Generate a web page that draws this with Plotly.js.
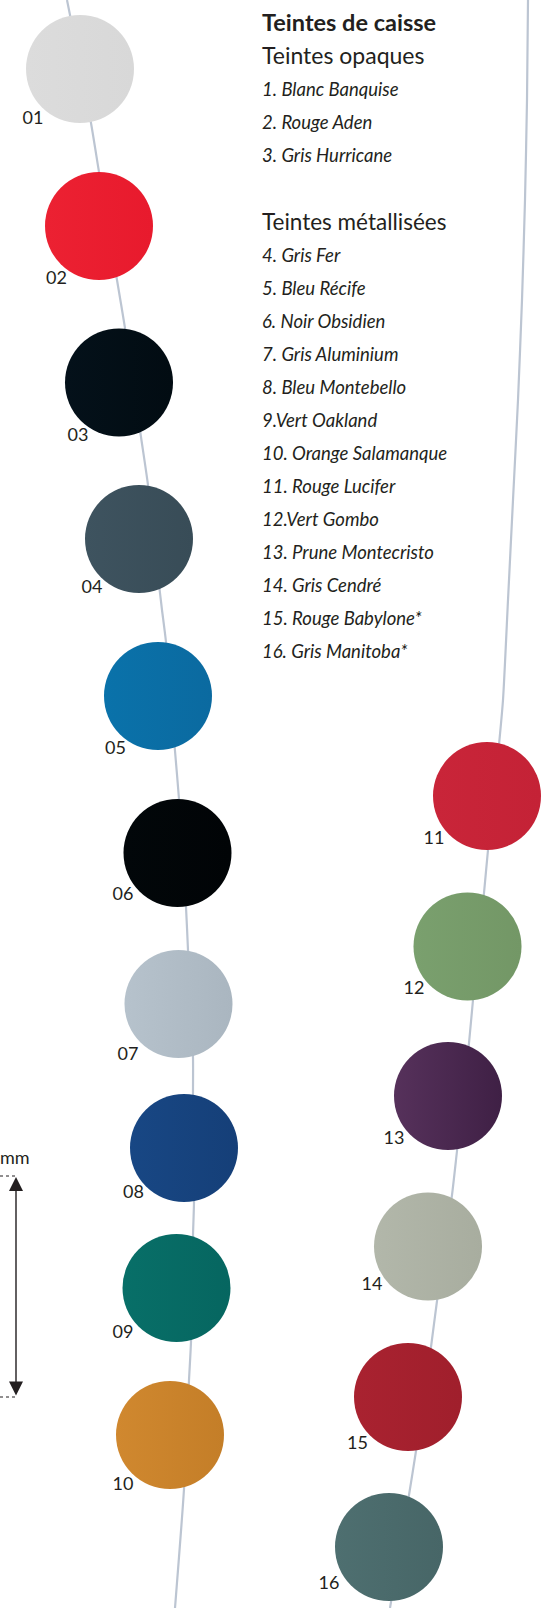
<!DOCTYPE html>
<html>
<head>
<meta charset="utf-8">
<script src="https://cdn.plot.ly/plotly-3.0.1.min.js"></script>
<style>
  html, body { margin: 0; padding: 0; background: #ffffff; }
  #chart { width: 556px; height: 1608px; }
</style>
</head>
<body>
<div id="chart"></div>
<script>
// ---- Data ----
const swatchIds = ['01','02','03','04','05','06','07','08','09','10','11','12','13','14','15','16'];
const swatchX = [80, 99, 119, 139, 158, 177.5, 178.5, 184, 176.5, 170, 487, 467.5, 448, 428, 408, 389];
const swatchY = [69, 226, 382.5, 539, 696, 853, 1004, 1148, 1288, 1435, 796, 946.5, 1096, 1246.5, 1397, 1547];
const swatchColor = ['#dcdcdc','#ec2132','#04111a','#3e535f','#0a72aa','#02070a','#b6c2cc','#184784',
                     '#086f68','#d0882f','#c92539','#7aa06e','#56315b','#b2b7aa','#a92230','#4e6f70'];
const swatchEdge  = ['#d8d8d8','#e81a2d','#020c12','#384c57','#0b6aa0','#010406','#aab6c0','#153f78',
                     '#066660','#c47e28','#c42236','#739766','#3f2045','#a8ad9f','#a01f2c','#476667'];
const labelX = [33, 56.5, 78, 92, 115.5, 123, 128, 133.5, 123, 123, 434, 414, 394, 372, 357.5, 329];
const labelY = [119.5, 279, 436, 588, 749, 895, 1055, 1193, 1333, 1485, 839, 989, 1139, 1285, 1444, 1584];

const leftThreadX = [67, 71, 91, 99, 117, 125, 141, 148, 160, 162, 166, 175, 179, 186, 188, 193, 193, 194, 193, 191, 189, 184, 175];
const leftThreadY = [0, 20, 123, 172, 280, 328, 437, 485, 593, 610, 642, 751, 799, 907, 950, 1058, 1094, 1202, 1235, 1342, 1380, 1489, 1608];
const rightThreadX = [528, 527, 525, 522, 518, 513, 508, 503, 498, 488, 484, 473, 469, 457, 452, 437, 431, 416, 409, 390];
const rightThreadY = [0, 100, 200, 300, 400, 500, 600, 700, 755, 850, 893, 1000, 1043, 1151, 1195, 1301, 1347, 1451, 1495, 1608];

const legendTitle = 'Teintes de caisse';
const groupOpaque = 'Teintes opaques';
const groupMetal = 'Teintes métallisées';
const opaqueNames = ['1. Blanc Banquise', '2. Rouge Aden', '3. Gris Hurricane'];
const metalNames = ['4. Gris Fer', '5. Bleu Récife', '6. Noir Obsidien', '7. Gris Aluminium',
  '8. Bleu Montebello', '9.Vert Oakland', '10. Orange Salamanque', '11. Rouge Lucifer',
  '12.Vert Gombo', '13. Prune Montecristo', '14. Gris Cendré', '15. Rouge Babylone*', '16. Gris Manitoba*'];
const scaleUnit = 'mm';

// ---- Styling ----
const FONT = 'Lato, "Open Sans", "DejaVu Sans", sans-serif';
const INK = '#231f20';
const THREAD = '#bcc5d2';

const traces = [
  { x: leftThreadX, y: leftThreadY, mode: 'lines', type: 'scatter',
    line: { color: THREAD, width: 2.2, shape: 'spline', smoothing: 0.6 }, hoverinfo: 'skip' },
  { x: rightThreadX, y: rightThreadY, mode: 'lines', type: 'scatter',
    line: { color: THREAD, width: 2.2, shape: 'spline', smoothing: 0.6 }, hoverinfo: 'skip' },
  { x: swatchX, y: swatchY, mode: 'markers', type: 'scatter',
    marker: { size: 108, color: swatchColor, line: { width: 0 },
              gradient: { type: 'horizontal', color: swatchEdge } },
    hoverinfo: 'skip' },
  { x: labelX, y: labelY, mode: 'text', type: 'scatter', text: swatchIds,
    textposition: 'middle center', textfont: { family: FONT, size: 18, color: INK }, hoverinfo: 'skip' }
];

const annotations = [];
const textX = 260;
annotations.push({ x: textX, y: 22, xref: 'x', yref: 'y', text: '<b>' + legendTitle + '</b>', showarrow: false,
  xanchor: 'left', yanchor: 'middle', font: { family: FONT, size: 23.5, color: INK } });
annotations.push({ x: textX, y: 54.5, xref: 'x', yref: 'y', text: groupOpaque, showarrow: false,
  xanchor: 'left', yanchor: 'middle', font: { family: FONT, size: 23, color: INK } });
opaqueNames.forEach((n, i) => annotations.push({ x: textX, y: 89 + 33.2 * i, xref: 'x', yref: 'y',
  text: '<i>' + n + '</i>', showarrow: false, xanchor: 'left', yanchor: 'middle',
  font: { family: FONT, size: 18.5, color: INK } }));
annotations.push({ x: textX, y: 221, xref: 'x', yref: 'y', text: groupMetal, showarrow: false,
  xanchor: 'left', yanchor: 'middle', font: { family: FONT, size: 22.5, color: INK } });
metalNames.forEach((n, i) => annotations.push({ x: textX, y: 254.5 + 33 * i, xref: 'x', yref: 'y',
  text: '<i>' + n + '</i>', showarrow: false, xanchor: 'left', yanchor: 'middle',
  font: { family: FONT, size: 18.5, color: INK } }));

// scale marker
annotations.push({ x: 0, y: 1157, xref: 'x', yref: 'y', text: scaleUnit, showarrow: false,
  xanchor: 'left', yanchor: 'middle', xshift: -2, font: { family: FONT, size: 18, color: INK } });
annotations.push({ x: 16, y: 1177, ax: 16, ay: 1397, xref: 'x', yref: 'y', axref: 'x', ayref: 'y',
  text: '', showarrow: true, arrowside: 'end+start', arrowhead: 2, arrowsize: 2, arrowwidth: 1.4,
  arrowcolor: INK, standoff: 0, startstandoff: 0 });

const shapes = [
  { type: 'line', xref: 'x', yref: 'y', x0: 0, x1: 15, y0: 1176, y1: 1176,
    line: { color: INK, width: 1, dash: 'dot' } },
  { type: 'line', xref: 'x', yref: 'y', x0: 0, x1: 15, y0: 1397, y1: 1397,
    line: { color: INK, width: 1, dash: 'dot' } }
];

const layout = {
  width: 556, height: 1608,
  margin: { l: 0, r: 0, t: 0, b: 0, pad: 0 },
  paper_bgcolor: '#ffffff', plot_bgcolor: '#ffffff',
  showlegend: false,
  xaxis: { range: [0, 556], visible: false, fixedrange: true },
  yaxis: { range: [1608, 0], visible: false, fixedrange: true },
  annotations: annotations,
  shapes: shapes
};

Plotly.newPlot('chart', traces, layout, { staticPlot: true, displayModeBar: false });
</script>
</body>
</html>
